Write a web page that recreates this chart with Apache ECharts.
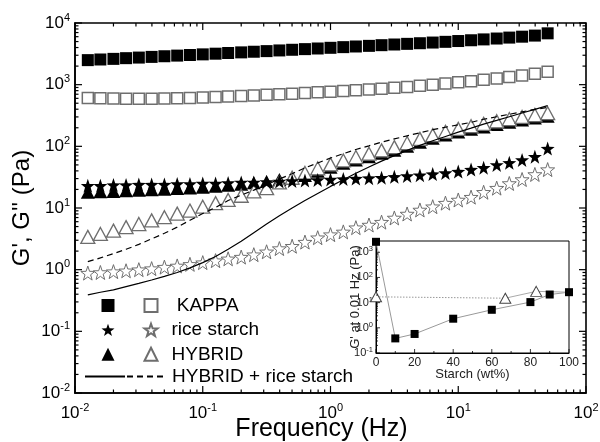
<!DOCTYPE html>
<html><head><meta charset="utf-8">
<script src="https://cdn.jsdelivr.net/npm/echarts@6/dist/echarts.min.js"></script>
<style>html,body{margin:0;padding:0;background:#fff}#c{width:600px;height:442px;background:#fff}</style>
</head><body><div id="c"></div>
<script>
// ---- main chart data ----
const freq = [0.0126,0.0158,0.02,0.0251,0.0316,0.0398,0.0501,0.0631,0.0794,0.1,0.126,0.158,0.2,0.251,0.316,0.398,0.501,0.631,0.794,1,1.26,1.58,2,2.51,3.16,3.98,5.01,6.31,7.94,10,12.6,15.8,20,25.1,31.6,39.8,50.1];
const kappaGp = [2500,2560,2620,2690,2750,2820,2890,2960,3030,3100,3180,3260,3340,3420,3500,3590,3680,3770,3860,3960,4060,4160,4260,4370,4480,4590,4700,4820,4950,5100,5250,5420,5600,5800,6000,6250,6800];
const kappaGpp = [610,600,595,590,590,590,595,600,610,620,630,640,655,670,685,700,715,730,750,770,790,810,835,860,890,920,960,1000,1040,1090,1140,1200,1260,1330,1410,1500,1620];
const hybridGp = [18,18.3,18.6,19,19.4,19.8,20.2,20.7,21.2,21.8,22.5,23.3,24.3,25.6,27,29,30.5,33.5,39.5,46,53,60,68,77,86,100,117,135,153,171,189,206,227,246,267,287,307];
const hybridGpp = [3.4,3.8,4.3,4.9,5.5,6.3,7.1,8.1,9.1,10.5,12,13.5,15.8,18.6,21,26,31,37,44,51,59,67,76,86,97,113,132,152,172,192,212,232,255,277,300,322,345];
const riceGp = [23,23,23.5,23.5,24,24,24,24.5,24.5,25,25,25.5,26,26,26.5,27,27.5,28,28.5,29,29.5,30,30.5,31,32,33,34,35.5,37,39,42,45,50,54,60,68,92];
const riceGpp = [0.88,0.9,0.93,0.96,1.0,1.04,1.1,1.15,1.22,1.3,1.4,1.5,1.6,1.75,1.95,2.2,2.4,2.8,3.3,3.7,4.1,4.8,5.3,5.9,6.9,8,9.3,10.5,12,13.5,15,18,21,25,29,35,42];
const mixGp = [0.39,0.43,0.47,0.53,0.6,0.68,0.78,0.9,1.07,1.3,1.64,2.14,2.88,3.98,5.5,7.5,10,13.2,17.2,22.4,28.8,36.7,46.2,57.5,70.8,86,103.5,123,144.5,170,197,229,263,302,347,398,457];
const mixGpp = [1.35,1.55,1.82,2.14,2.57,3.16,3.89,4.9,6.31,8.13,10.2,13.2,16.2,19.5,24,29.5,36,44.7,53.7,64.6,75.9,89,102,117,132,148,166,186,204,224,245,275,302,331,363,398,427];
// ---- inset data ----
const starchWt = [0,10,20,40,60,80,90,100];
const insetGp = [2600,0.38,0.57,2.3,5.2,10.5,21,26];
const insetTriWt = [0,67,83,100];
const insetTriGp = [17,15,28,26];
// ---- tick values ----
const xMajor = [0.01,0.1,1,10,100];
const yMajor = [0.01,0.1,1,10,100,1000,10000];
function minors(lo, hi){ const out=[]; for(let e=lo;e<hi;e++){ for(let m=2;m<=9;m++){ out.push(m*Math.pow(10,e)); } } return out; }
const xMinor = minors(-2,2);
const yMinor = minors(-2,4);
const insetXMajor = [0,20,40,60,80,100];
const insetXMinor = [10,30,50,70,90];
const insetYMajor = [0.1,1,10,100,1000];
const insetYMinor = minors(-1,4).filter(v=>v<=2800);

const FONT = 'Liberation Sans, Arial, sans-serif';
const STAR = 'path://M50 0 L61.76 33.82 L97.55 34.55 L69.02 56.18 L79.39 90.45 L50 70 L20.61 90.45 L30.98 56.18 L2.45 34.55 L38.24 33.82 Z';
const OPEN = '#6e6e6e';
const pairs = (xs, ys) => xs.map((x,i)=>[x, ys[i]]);
function supFmt(v){ const e=Math.round(Math.log10(v)); return '{b|10}{s|'+e+'}'; }
const richMain = { b:{fontSize:17,fontFamily:FONT,color:'#000',lineHeight:22}, s:{fontSize:11,fontFamily:FONT,color:'#000',lineHeight:12,verticalAlign:'top'} };
const richInset = { b:{fontSize:11,fontFamily:FONT,color:'#222',lineHeight:14}, s:{fontSize:7.5,fontFamily:FONT,color:'#222',lineHeight:8,verticalAlign:'top'} };

const labelNames = {"KAPPA G''":' KAPPA', "rice starch G''":'rice starch', "HYBRID G''":'HYBRID', "HYBRID + rice starch G''":'HYBRID + rice starch'};
const legendText = {fontSize:19, fontFamily:FONT, color:'#000'};

// custom series drawing inward ticks (both sides) and optional frame, via the axes' coordinate system
function tickSeries(name, xi, yi, vals, isX, majorSet, majLen, minLen, both, lw, frame, z){
  const majors = new Set(majorSet);
  return {name:name, type:'custom', xAxisIndex:xi, yAxisIndex:yi, z:z, silent:true, clip:false,
    data: vals.map(v => isX ? [v, majorSet[1]] : [xi===0?1:50, v]),
    renderItem: function(params, api){
      const cs = params.coordSys;
      const L = cs.x, R = cs.x + cs.width, T = cs.y, B = cs.y + cs.height;
      const v = api.value(isX ? 0 : 1);
      const len = majors.has(v) ? majLen : minLen;
      const st = {stroke:'#000', lineWidth:lw};
      const ch = [];
      if (isX) {
        const x = api.coord([v, api.value(1)])[0];
        ch.push({type:'line', shape:{x1:x,y1:B,x2:x,y2:B-len}, style:st});
        if (both) ch.push({type:'line', shape:{x1:x,y1:T,x2:x,y2:T+len}, style:st});
      } else {
        const y = api.coord([api.value(0), v])[1];
        ch.push({type:'line', shape:{x1:L,y1:y,x2:L+len,y2:y}, style:st});
        if (both) ch.push({type:'line', shape:{x1:R,y1:y,x2:R-len,y2:y}, style:st});
      }
      if (frame && params.dataIndex === 0) {
        ch.push({type:'rect', shape:{x:L,y:T,width:cs.width,height:cs.height}, style:{fill:'none', stroke:'#000', lineWidth:frame}});
      }
      return {type:'group', children:ch};
    }
  };
}

const option = {
  animation:false,
  grid:[
    {left:75, top:23, width:511, height:370, outerBoundsMode:'none'},
    {left:376, top:241, width:193, height:112, show:true, backgroundColor:'#fff', borderColor:'#000', borderWidth:1, z:3, outerBoundsMode:'none'}
  ],
  xAxis:[
    {type:'log', gridIndex:0, position:'bottom', min:0.01, max:100, logBase:10,
      axisLine:{show:true, onZero:false, lineStyle:{color:'#000', width:1.6}},
      axisTick:{show:false}, splitLine:{show:false},
      axisLabel:{show:true, formatter:supFmt, rich:richMain, margin:9},
      name:'Frequency (Hz)', nameLocation:'middle', nameGap:24, nameMoveOverlap:false,
      nameTextStyle:{fontSize:25, fontFamily:FONT, color:'#000', padding:[0,18,0,0]}},
    {type:'value', gridIndex:1, min:0, max:100, interval:20, position:'bottom', z:10,
      axisLine:{show:true,onZero:false,lineStyle:{color:'#000',width:1}},
      axisTick:{show:false}, minorTick:{show:false},
      axisLabel:{fontSize:12,fontFamily:FONT,color:'#222',margin:4},
      splitLine:{show:false},
      name:'Starch (wt%)', nameLocation:'middle', nameGap:15, nameMoveOverlap:false,
      nameTextStyle:{fontSize:13,fontFamily:FONT,color:'#222'}}
  ],
  yAxis:[
    {type:'log', gridIndex:0, position:'left', min:0.01, max:10000, logBase:10,
      axisLine:{show:true, onZero:false, lineStyle:{color:'#000', width:1.6}},
      axisTick:{show:false}, splitLine:{show:false},
      axisLabel:{show:true, formatter:supFmt, rich:richMain, margin:5},
      name:"G', G'' (Pa)", nameLocation:'middle', nameGap:41, nameRotate:90, nameMoveOverlap:false,
      nameTextStyle:{fontSize:24, fontFamily:FONT, color:'#000'}},
    {type:'log', gridIndex:1, min:0.1, max:2800, logBase:10, position:'left', z:10,
      axisLine:{show:true,onZero:false,lineStyle:{color:'#000',width:1}},
      axisTick:{show:false}, splitLine:{show:false},
      axisLabel:{formatter:supFmt, rich:richInset, margin:3},
      name:"G' at 0.01 Hz (Pa)", nameLocation:'middle', nameGap:14, nameRotate:90, nameMoveOverlap:false,
      nameTextStyle:{fontSize:13,fontFamily:FONT,color:'#222'}}
  ],
  legend:[
    {data:["KAPPA G'","rice starch G'","HYBRID G'"], orient:'vertical', left:101.5, top:296, padding:0,
      itemWidth:13, itemHeight:13, itemGap:5.4, selectedMode:false, formatter:()=>' ', textStyle:legendText},
    {data:["KAPPA G''","rice starch G''","HYBRID G''"], orient:'vertical', left:143.5, top:296, padding:0,
      itemWidth:13, itemHeight:13, itemGap:5.4, selectedMode:false, formatter:n=>labelNames[n],
      textStyle:Object.assign({padding:[0,0,0,9]}, legendText)},
    {data:["HYBRID + rice starch G'","HYBRID + rice starch G''"], orient:'horizontal', left:84, top:367, padding:0,
      itemWidth:40, itemHeight:13, itemGap:0, selectedMode:false,
      formatter:n=>labelNames[n]||'', textStyle:legendText}
  ],
  series:[
    {name:"KAPPA G'", type:'scatter', xAxisIndex:0, yAxisIndex:0, symbol:'rect', symbolSize:12,
      itemStyle:{color:'#000',opacity:1}, data:pairs(freq,kappaGp)},
    {name:"KAPPA G''", type:'scatter', xAxisIndex:0, yAxisIndex:0, symbol:'rect', symbolSize:11,
      itemStyle:{color:'#fff',borderColor:OPEN,borderWidth:1.5,opacity:1}, data:pairs(freq,kappaGpp)},
    {name:"HYBRID G'", type:'scatter', xAxisIndex:0, yAxisIndex:0, symbol:'triangle', symbolSize:[14,13],
      itemStyle:{color:'#000',opacity:1}, data:pairs(freq,hybridGp)},
    {name:"HYBRID G''", type:'scatter', xAxisIndex:0, yAxisIndex:0, symbol:'triangle', symbolSize:[14,13],
      itemStyle:{color:'#fff',borderColor:OPEN,borderWidth:1.3,opacity:1}, data:pairs(freq,hybridGpp)},
    {name:"rice starch G'", type:'scatter', xAxisIndex:0, yAxisIndex:0, symbol:STAR, symbolSize:14,
      itemStyle:{color:'#000',opacity:1}, data:pairs(freq,riceGp)},
    {name:"rice starch G''", type:'scatter', xAxisIndex:0, yAxisIndex:0, symbol:STAR, symbolSize:14,
      itemStyle:{color:'#fff',borderColor:OPEN,borderWidth:1,opacity:1}, data:pairs(freq,riceGpp)},
    {name:"HYBRID + rice starch G'", type:'line', xAxisIndex:0, yAxisIndex:0, symbol:'none', color:'#000',
      itemStyle:{color:'rgba(0,0,0,0)',borderWidth:0},
      lineStyle:{color:'#000',width:1.2,type:'solid'}, data:pairs(freq,mixGp), z:4},
    {name:"HYBRID + rice starch G''", type:'line', xAxisIndex:0, yAxisIndex:0, symbol:'none', color:'#000',
      itemStyle:{color:'rgba(0,0,0,0)',borderWidth:0},
      lineStyle:{color:'#000',width:1.2,type:[6,4]}, data:pairs(freq,mixGpp), z:4},
    // inset
    {name:'inset kappa', type:'line', xAxisIndex:1, yAxisIndex:1, symbol:'rect', symbolSize:8, z:10,
      lineStyle:{color:'#999',width:1}, itemStyle:{color:'#000'}, data:pairs(starchWt,insetGp)},
    {name:'inset hybrid ref', type:'line', xAxisIndex:1, yAxisIndex:1, symbol:'none', z:9,
      lineStyle:{color:'#999',width:1,type:[1.5,1.5]}, data:pairs(insetTriWt,insetTriGp).slice(0,2)},
    {name:'inset hybrid', type:'line', xAxisIndex:1, yAxisIndex:1, symbol:'triangle', symbolSize:[11,10], z:10,
      lineStyle:{color:'#aaa',width:1}, itemStyle:{color:'#fff',borderColor:'#444',borderWidth:1},
      data:pairs(insetTriWt,insetTriGp).slice(1).map((p,i,a)=> i===a.length-1 ? {value:p, symbol:'none'} : p)},
    {name:'inset hybrid start', type:'scatter', xAxisIndex:1, yAxisIndex:1, symbol:'triangle', symbolSize:[11,10], z:10,
      itemStyle:{color:'#fff',borderColor:'#444',borderWidth:1,opacity:1}, data:pairs(insetTriWt,insetTriGp).slice(0,1)},
    // ticks and frames
    tickSeries('main x ticks', 0, 0, xMajor.concat(xMinor), true, xMajor, 7, 3.5, true, 1.2, 1.6, 6),
    tickSeries('main y ticks', 0, 0, yMajor.concat(yMinor), false, yMajor, 7, 3.5, true, 1.2, 0, 6),
    tickSeries('inset x ticks', 1, 1, insetXMajor.concat(insetXMinor), true, insetXMajor, 4, 2, false, 0.8, 0, 11),
    tickSeries('inset y ticks', 1, 1, insetYMajor.concat(insetYMinor), false, insetYMajor, 4, 2, false, 0.8, 0, 11)
  ]
};
const chart = echarts.init(document.getElementById('c'), null, {renderer:'canvas'});
chart.setOption(option);
</script></body></html>
